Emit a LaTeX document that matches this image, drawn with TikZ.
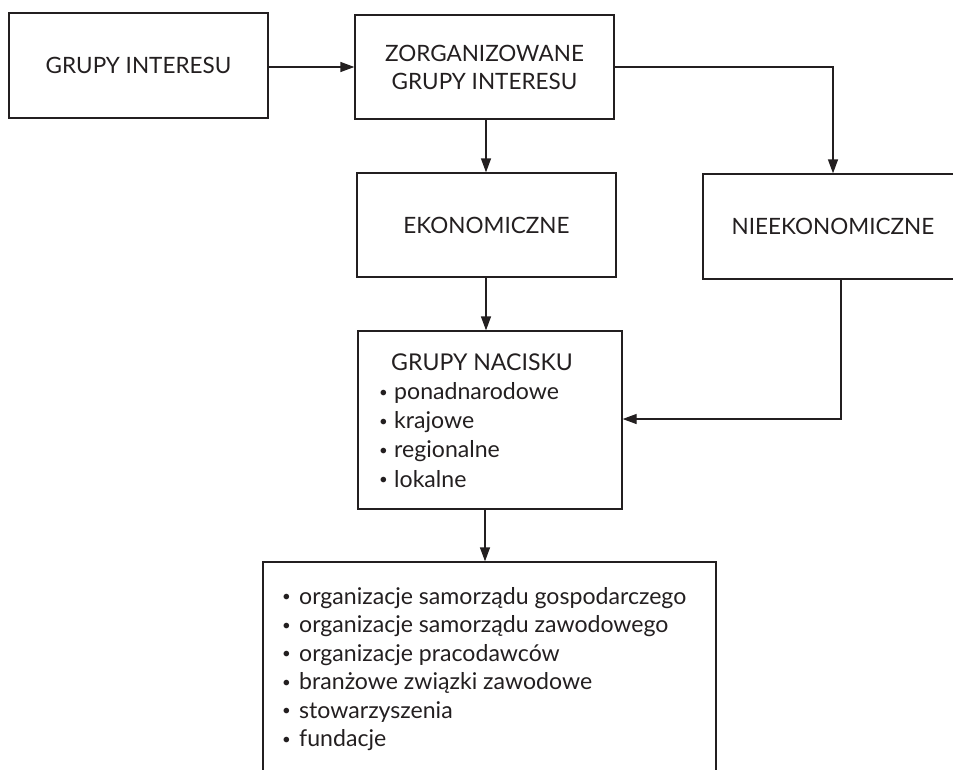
\documentclass[tikz,border=0pt]{standalone}
\usepackage{fontspec}
\setmainfont{Lato}
\usetikzlibrary{arrows.meta}
\definecolor{ink}{HTML}{231F20}
\newcommand{\bul}[1]{\makebox[#1][l]{\raisebox{2.2pt}{\fontsize{15}{15}\selectfont •}}}
\begin{document}
\begin{tikzpicture}[x=1pt,y=-1pt,
  box/.style={draw=ink, line width=1.3pt, rectangle, inner sep=0pt, text=ink, font=\fontsize{22.5}{28}\selectfont, align=center},
  txt/.style={inner sep=0pt, anchor=base west, text=ink, font=\fontsize{23.1}{28}\selectfont},
  conn/.style={draw=ink, line width=1.3pt, -{Triangle[length=14pt,width=10pt]}}]
\useasboundingbox (0,0) rectangle (953,769);
\clip (0,0) rectangle (953,769);
\node[box, minimum width=259pt, minimum height=105pt] (b1) at (138.5,65.5) {GRUPY INTERESU};
\node[box, minimum width=259pt, minimum height=104pt] (b2) at (484.5,67) {ZORGANIZOWANE\\GRUPY INTERESU};
\node[box, minimum width=259pt, minimum height=104pt] (b3) at (486.5,225) {EKONOMICZNE};
\node[box, minimum width=260pt, minimum height=105pt] (b4) at (833,226.5) {NIEEKONOMICZNE};
\node[box, minimum width=264pt, minimum height=178pt] (b5) at (490,420) {};
\node[box, minimum width=453pt, minimum height=256pt] (b6) at (489.5,690) {};
% texts of box 5
\node[txt] (t50) at (391,370) {GRUPY NACISKU};
\node[txt] (t51) at (379,399.5) {\bul{15pt}ponadnarodowe};
\node[txt] (t52) at (379,428.5) {\bul{15pt}krajowe};
\node[txt] (t53) at (379,457.5) {\bul{15pt}regionalne};
\node[txt] (t54) at (379,487) {\bul{15pt}lokalne};
% texts of box 6
\node[txt] (t61) at (282,604) {\bul{17pt}organizacje samorządu gospodarczego};
\node[txt] (t62) at (282,632.5) {\bul{17pt}organizacje samorządu zawodowego};
\node[txt] (t63) at (282,661) {\bul{17pt}organizacje pracodawców};
\node[txt] (t64) at (282,689.5) {\bul{17pt}branżowe związki zawodowe};
\node[txt] (t65) at (282,718) {\bul{17pt}stowarzyszenia};
\node[txt] (t66) at (282,746.5) {\bul{17pt}fundacje};
% connectors
\coordinate (c1) at (833,67);
\coordinate (c2) at (841,419);
\draw[conn] (b1.east |- b2.west) -- (b2.west);
\draw[conn] (b2.south -| 486,0) -- (b3.north -| 486,0);
\draw[conn] (b2.east) -- (c1) -- (b4.north);
\draw[conn] (b3.south -| 486,0) -- (b5.north -| 486,0);
\draw[conn] (b4.south -| c2) -- (c2) -- (b5.east |- c2);
\draw[conn] (b5.south -| 485,0) -- (b6.north -| 485,0);
\end{tikzpicture}
\end{document}
